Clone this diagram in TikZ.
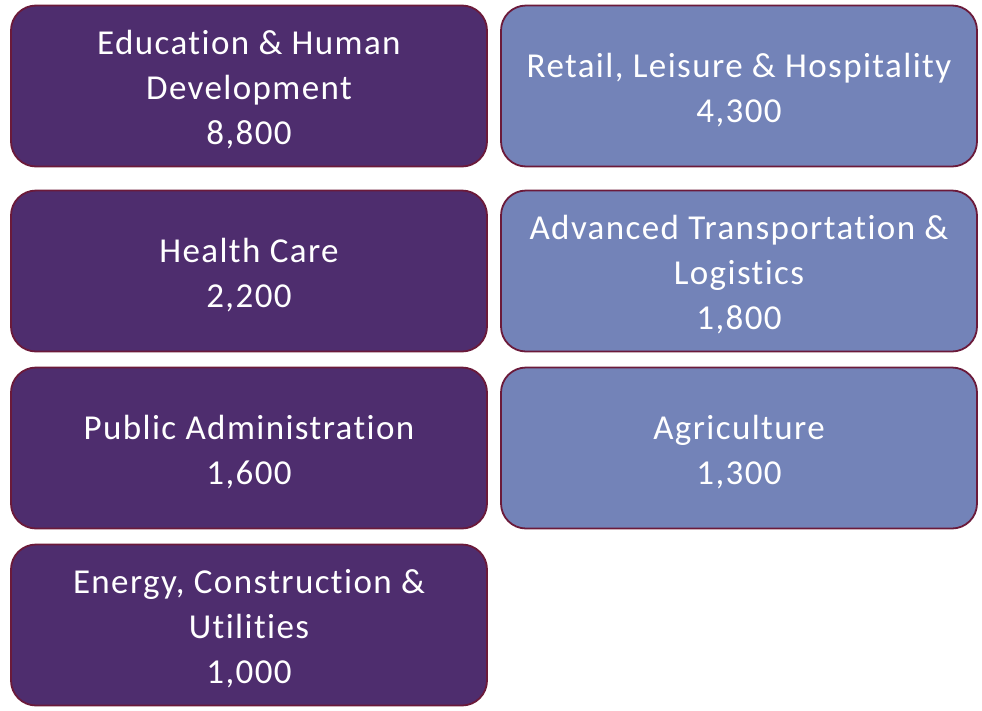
\documentclass[tikz,border=0pt]{standalone}
\usepackage{fontspec}
\setmainfont{Carlito}[Ligatures=NoCommon,LetterSpace=4]
\definecolor{purp}{HTML}{4E2D6E}
\definecolor{blu}{HTML}{7383B8}
\definecolor{edge}{HTML}{6B1A3A}
\begin{document}
\begin{tikzpicture}[x=1pt,y=-1pt,
  cell/.style={draw=edge,line width=1.8pt,rounded corners=25pt,minimum width=476pt,minimum height=161pt,inner sep=0pt},
  pcell/.style={cell,fill=purp},
  bcell/.style={cell,fill=blu},
  txt/.style={text=white,align=center,font=\fontsize{35}{45}\selectfont,inner sep=0pt,yshift=-4pt}]
\useasboundingbox (0,0) rectangle (982,710);
\node[pcell] (edu) at (249,86) {};
\node[txt] (edut) at (edu.center) {Education \& Human\\Development\\8,800};
\node[bcell] (ret) at (739,86) {};
\node[txt] (rett) at (ret.center) {Retail, Leisure \& Hospitality\\4,300};
\node[pcell] (hea) at (249,271) {};
\node[txt] (heat) at (hea.center) {Health Care\\2,200};
\node[bcell] (atl) at (739,271) {};
\node[txt] (atlt) at (atl.center) {Advanced Transportation \&\\Logistics\\1,800};
\node[pcell] (pub) at (249,448) {};
\node[txt] (pubt) at (pub.center) {Public Administration\\1,600};
\node[bcell] (agr) at (739,448) {};
\node[txt] (agrt) at (agr.center) {Agriculture\\1,300};
\node[pcell] (ene) at (249,625) {};
\node[txt] (enet) at (ene.center) {Energy, Construction \&\\Utilities\\1,000};
\end{tikzpicture}
\end{document}
